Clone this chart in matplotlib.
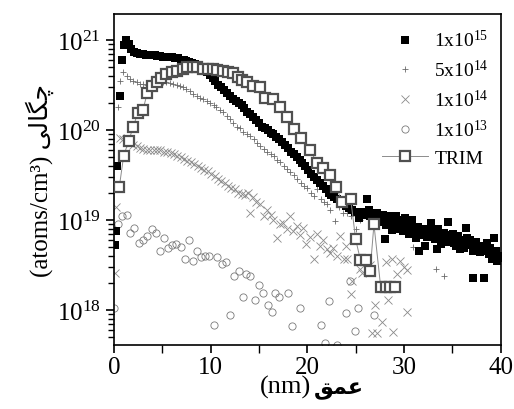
import numpy as np
import matplotlib
matplotlib.use("Agg")
import matplotlib.pyplot as plt
from matplotlib.ticker import MultipleLocator, LogLocator

plt.rcParams['font.family'] = ['Liberation Serif', 'DejaVu Sans']
plt.rcParams['mathtext.fontset'] = 'custom'
plt.rcParams['mathtext.rm'] = 'Liberation Serif'
plt.rcParams['mathtext.it'] = 'Liberation Serif:italic'

# 1x10^15 (filled squares)
d15 = [0.1, 0.2, 0.35, 0.6, 0.85, 1.05, 1.25, 1.5, 1.8, 2.1, 2.4, 2.7, 3.0, 3.3, 3.6, 3.9,
       4.2, 4.5, 4.8, 5.1, 5.4, 5.7, 6.0, 6.3, 6.6, 6.9, 7.2, 7.5, 7.8, 8.1, 8.4, 8.7,
       9.0, 9.3, 9.6, 9.9, 10.2, 10.5, 10.8, 11.1, 11.4, 11.7, 12.0, 12.3, 12.6, 12.9,
       13.2, 13.5, 13.8, 14.1, 14.4, 14.7, 15.0, 15.3, 15.6, 15.9, 16.2, 16.5, 16.8,
       17.1, 17.4, 17.7, 18.0, 18.3, 18.6, 18.9, 19.2, 19.5, 19.8, 20.1, 20.4, 20.7,
       21.0, 21.3, 21.6, 21.9, 22.2, 22.5, 22.8, 23.1, 23.4, 23.7, 24.0, 24.3, 24.6,
       24.9, 25.2, 25.5, 25.8, 26.2, 26.5, 26.8, 27.1, 27.4, 27.7, 28.0, 28.3, 28.6,
       28.9, 29.2, 29.5, 29.8, 30.1, 30.4, 30.7, 31.0, 31.3, 31.6, 31.9, 32.2, 32.5,
       32.8, 33.1, 33.4, 33.7, 34.0, 34.3, 34.6, 34.9, 35.2, 35.5, 35.8, 36.1, 36.4,
       36.7, 37.0, 37.2, 37.6, 37.9, 38.3, 38.5, 38.8, 39.1, 39.3, 39.6, 39.9,
       25.35, 25.95, 26.35, 26.65, 27.25, 27.55, 27.85, 28.15, 28.45, 28.75, 29.05,
       29.35, 29.65, 29.95, 30.25, 30.55, 30.85, 31.15, 31.45, 31.75, 32.05, 32.35,
       32.65, 32.95, 33.25, 33.55, 33.85, 34.15, 34.45, 34.75, 35.05, 35.35, 35.65,
       35.95, 36.25, 36.55, 36.85, 37.15, 37.45, 37.75, 38.05, 38.35, 38.65, 38.95,
       39.25, 39.55, 39.85]
c15 = [5.3e18, 7.6e18, 4.0e19, 2.4e20, 6.0e20, 8.8e20, 1.0e21, 9.0e20, 8.0e20, 7.5e20,
       7.2e20, 7.0e20, 7.0e20, 6.9e20, 6.8e20, 6.8e20, 6.8e20, 6.7e20, 6.7e20, 6.6e20,
       6.6e20, 6.5e20, 6.5e20, 6.4e20, 6.3e20, 6.1e20, 6.0e20, 5.9e20, 5.8e20, 5.6e20,
       5.4e20, 5.2e20, 5.0e20, 4.7e20, 4.4e20, 4.1e20, 3.8e20, 3.5e20, 3.2e20, 3.0e20,
       2.8e20, 2.6e20, 2.4e20, 2.25e20, 2.1e20, 2.0e20, 1.9e20, 1.75e20, 1.6e20, 1.5e20,
       1.4e20, 1.3e20, 1.2e20, 1.1e20, 1.05e20, 1.0e20, 9.4e19, 9.0e19, 8.5e19, 8.0e19,
       7.4e19, 6.8e19, 6.3e19, 5.8e19, 5.4e19, 5.0e19, 4.7e19, 4.3e19, 4.0e19, 3.6e19,
       3.3e19, 3.0e19, 2.8e19, 2.6e19, 2.4e19, 2.2e19, 2.0e19, 1.9e19, 1.8e19, 1.7e19,
       1.6e19, 1.5e19, 1.45e19, 1.35e19, 1.3e19, 1.25e19, 1.25e19, 1.2e19, 1.15e19,
       1.7e19, 1.1e19, 1.15e19, 1.05e19, 1.1e19, 9.5e18, 6.2e18, 1.0e19, 9.0e18, 1.0e19,
       1.1e19, 8.5e18, 9.5e18, 1.05e19, 8.6e18, 9.0e18, 8.5e18, 6.4e18, 4.6e18, 7.5e18,
       5.2e18, 7.8e18, 9.2e18, 6.7e18, 4.8e18, 7.0e18, 6.1e18, 6.5e18, 9.5e18, 6.0e18,
       5.6e18, 6.3e18, 4.8e18, 5.8e18, 8.3e18, 5.5e18, 5.3e18, 2.3e18, 4.6e18, 4.4e18,
       2.3e18, 5.0e18, 4.2e18, 3.7e18, 6.4e18, 3.5e18, 4.0e18,
       1.05e19, 1.25e19, 1.3e19, 9.8e18, 1.2e19, 1.0e19, 1.15e19, 8.8e18, 1.1e19, 7.8e18,
       9.2e18, 8.0e18, 1.0e19, 7.5e18, 9.2e18, 7.0e18, 1.0e19, 7.8e18, 8.5e18, 6.8e18,
       8.0e18, 6.5e18, 7.0e18, 7.5e18, 6.2e18, 8.0e18, 5.5e18, 7.2e18, 5.8e18, 6.8e18,
       7.0e18, 5.2e18, 6.6e18, 6.0e18, 4.9e18, 6.4e18, 6.0e18, 4.5e18, 5.8e18, 5.2e18,
       4.8e18, 4.5e18, 5.6e18, 4.9e18, 4.2e18, 4.6e18, 3.8e18]

# 5x10^14 (plus)
d5e14 = [0.45, 0.6, 0.97, 1.3, 1.65, 2.0, 2.35, 2.7, 3.05, 3.4, 3.75, 4.1, 4.4, 4.75, 5.1,
         5.4, 5.8, 6.1, 6.5, 6.8, 7.15, 7.5, 7.85, 8.2, 8.55, 8.9, 9.25, 9.6, 9.95, 10.3,
         10.6, 10.95, 11.3, 11.7, 12.0, 12.35, 12.7, 13.05, 13.4, 13.75, 14.1, 14.45, 14.8,
         15.1, 15.5, 15.85, 16.2, 16.55, 16.9, 17.2, 17.55, 17.9, 18.2, 18.6, 18.95, 19.3,
         19.65, 20.0, 20.35, 20.7, 21.0, 21.4, 21.7, 22.0, 22.4, 22.9, 23.3, 23.7, 24.1,
         24.5, 25.0, 25.5, 30.9, 33.3, 34.2]
c5e14 = [1.8e20, 3.5e20, 4.4e20, 4.0e20, 3.7e20, 3.5e20, 3.4e20, 3.3e20, 3.25e20, 3.2e20,
         3.3e20, 3.35e20, 3.4e20, 3.4e20, 3.4e20, 3.4e20, 3.35e20, 3.3e20, 3.2e20, 3.1e20,
         3.0e20, 2.85e20, 2.7e20, 2.55e20, 2.4e20, 2.3e20, 2.2e20, 2.1e20, 2.0e20, 1.9e20,
         1.8e20, 1.7e20, 1.6e20, 1.45e20, 1.35e20, 1.2e20, 1.1e20, 1.05e20, 9.5e19, 9.0e19,
         8.6e19, 8.0e19, 7.3e19, 6.7e19, 6.2e19, 5.8e19, 5.5e19, 5.2e19, 4.7e19, 4.4e19,
         4.0e19, 3.7e19, 3.4e19, 3.2e19, 2.9e19, 2.6e19, 2.4e19, 2.3e19, 2.0e19, 1.85e19,
         2.2e19, 1.7e19, 1.6e19, 1.5e19, 1.3e19, 9.8e18, 1.4e19, 1.2e19, 1.2e19, 1.1e19,
         8.0e18, 1.0e19, 5.0e18, 2.9e18, 2.4e18]

# 1x10^14 (cross)
d1e14 = [0.07, 0.25, 0.6, 0.95, 1.3, 1.65, 2.0, 2.35, 2.7, 3.05, 3.4, 3.75, 4.1, 4.45, 4.8,
         5.15, 5.5, 5.85, 6.2, 6.55, 6.9, 7.25, 7.6, 7.95, 8.3, 8.65, 9.0, 9.35, 9.7, 10.05,
         10.4, 10.75, 11.1, 11.45, 11.8, 12.15, 12.5, 12.85, 13.2, 13.55, 13.9, 14.1, 14.4,
         14.7, 15.1, 15.5, 15.8, 16.2, 16.5, 16.9, 17.2, 17.5, 17.9, 18.2, 18.5, 18.9, 19.2,
         19.6, 19.9, 20.3, 20.7, 21.0, 21.3, 21.6, 22.0, 22.4, 22.7, 23.1, 23.4, 23.8, 24.0,
         24.1, 24.5, 24.6, 25.5, 25.7, 26.5, 26.7, 27.0, 27.2, 27.7, 28.1, 28.4, 28.8, 28.9,
         29.3, 29.6, 30.0, 30.3, 30.3]
c1e14 = [2.6e18, 1.4e19, 8.3e19, 7.9e19, 7.6e19, 7.3e19, 6.9e19, 6.6e19, 6.4e19, 6.2e19,
         6.1e19, 6.1e19, 6.0e19, 6.0e19, 6.0e19, 5.7e19, 5.8e19, 5.6e19, 5.4e19, 5.2e19,
         5.0e19, 4.8e19, 4.6e19, 4.4e19, 4.2e19, 4.0e19, 3.8e19, 3.6e19, 3.5e19, 3.3e19,
         3.1e19, 2.9e19, 2.7e19, 2.6e19, 2.4e19, 2.3e19, 2.2e19, 2.0e19, 1.95e19, 1.9e19,
         2.0e19, 1.2e19, 1.8e19, 1.6e19, 1.5e19, 1.1e19, 1.3e19, 1.15e19, 1.0e19, 6.3e18,
         9.0e18, 9.4e18, 8.0e18, 1.1e19, 7.5e18, 8.6e18, 6.8e18, 8.3e18, 5.5e18, 6.5e18,
         3.7e18, 7.0e18, 5.2e18, 6.0e18, 4.8e18, 4.3e18, 4.9e18, 4.0e18, 6.7e18, 3.7e18,
         5.2e18, 3.7e18, 1.5e18, 2.1e18, 2.9e18, 2.6e18, 3.2e18, 5.6e17, 1.15e18, 5.6e17,
         7.3e17, 3.4e18, 1.3e18, 3.7e18, 5.7e17, 2.5e18, 3.5e18, 3.0e18, 9.5e17, 2.8e18]

# 1x10^13 (open circles)
d1e13 = [0.0, 0.45, 0.87, 1.3, 1.7, 2.1, 2.6, 3.0, 3.45, 3.9, 4.3, 4.75, 5.2, 5.6, 6.0,
         6.45, 6.9, 7.3, 7.75, 8.15, 8.55, 9.0, 9.4, 9.85, 10.35, 10.7, 11.15, 11.55, 12.0,
         12.4, 12.9, 13.3, 13.7, 14.1, 14.6, 15.0, 15.4, 15.9, 16.3, 16.7, 17.1, 18.0, 18.4,
         19.2, 21.4, 21.8, 22.3, 23.1, 24.0, 24.4, 24.9, 25.2, 26.9]
c1e13 = [1.05e18, 9.1e18, 1.12e19, 1.15e19, 7.3e18, 8.3e18, 5.6e18, 6.0e18, 6.7e18, 7.9e18,
         7.2e18, 4.6e18, 6.3e18, 4.9e18, 5.3e18, 5.4e18, 5.1e18, 3.7e18, 6.0e18, 3.5e18,
         4.5e18, 3.9e18, 4.0e18, 4.0e18, 6.8e17, 3.9e18, 3.3e18, 3.4e18, 8.9e17, 2.4e18,
         2.7e18, 1.4e18, 2.5e18, 2.4e18, 1.3e18, 1.9e18, 1.55e18, 1.15e18, 9.5e17, 1.55e18,
         1.4e18, 1.55e18, 6.6e17, 1.05e18, 6.8e17, 4.3e17, 1.25e18, 4.1e17, 9.4e17, 2.1e18,
         5.8e17, 1.05e18, 8.9e17]

# TRIM simulation
d_trim = [0.55, 1.0, 1.5, 2.0, 2.45, 3.0, 3.45, 3.9, 4.4, 4.9, 5.4, 6.0, 6.5, 7.1, 7.6,
          8.15, 8.6, 9.2, 9.7, 10.2, 10.7, 11.25, 11.75, 12.3, 12.8, 13.2, 13.75, 14.4,
          15.1, 15.6, 16.5, 17.2, 17.9, 18.6, 19.4, 20.3, 21.0, 21.6, 22.4, 23.0, 23.6,
          24.5, 25.0, 25.5, 26.1, 26.5, 26.9, 27.6, 28.1, 28.6, 29.1]
c_trim = [2.35e19, 5.2e19, 7.5e19, 1.1e20, 1.55e20, 1.7e20, 2.6e20, 3.1e20, 3.4e20, 3.85e20,
          4.2e20, 4.4e20, 4.6e20, 4.75e20, 5.0e20, 5.0e20, 5.0e20, 4.8e20, 4.8e20, 4.8e20,
          4.65e20, 4.55e20, 4.4e20, 4.3e20, 3.95e20, 3.6e20, 3.4e20, 3.1e20, 3.0e20, 2.3e20,
          2.2e20, 1.8e20, 1.4e20, 1.03e20, 8.3e19, 6.1e19, 4.3e19, 3.8e19, 3.2e19, 2.35e19,
          1.6e19, 1.7e19, 6.2e18, 3.6e18, 3.6e18, 2.7e18, 9.0e18, 1.8e18, 1.8e18, 1.8e18,
          1.8e18]

labels = ["1x10$^{15}$", "5x10$^{14}$", "1x10$^{14}$", "1x10$^{13}$", "TRIM"]

# Persian words written in visual order with presentation forms
xlab_unit = "(nm)"
xlab_word = "\uFED6\uFEE4\uFECB"
ylab = "(atoms/cm\u00b3) " + "\uFBFD\uFEDF\uFE8E\uFB95\uFB7C"

fig = plt.figure(figsize=(5.14, 4.10), dpi=100)
ax = fig.add_axes([0.2218, 0.156, 0.752, 0.807])

ax.plot(d1e13, c1e13, linestyle='none', marker='o', ms=5.2, mfc='none',
        mec='#7a7a7a', mew=0.6, label=labels[3], zorder=2)
ax.plot(d1e14, c1e14, linestyle='none', marker='x', ms=5.5,
        mec='#8a8a8a', mew=0.6, label=labels[2], zorder=2)
ax.plot(d5e14, c5e14, linestyle='none', marker='+', ms=5,
        mec='#6a6a6a', mew=0.6, label=labels[1], zorder=3)
ax.plot(d15, c15, linestyle='none', marker='s', ms=5.5, mfc='black',
        mec='black', mew=0, label=labels[0], zorder=4)
ax.plot(d_trim, c_trim, '-', color='#8c8c8c', lw=0.7, marker='s', ms=7,
        mfc='white', mec='#505050', mew=1.6, label=labels[4], zorder=5)

ax.set_yscale('log')
ax.set_xlim(0, 40)
ax.set_ylim(4.1e17, 1.95e21)
ax.xaxis.set_major_locator(MultipleLocator(10))
ax.xaxis.set_minor_locator(MultipleLocator(5))
ax.yaxis.set_major_locator(LogLocator(base=10, numticks=10))
ax.yaxis.set_minor_locator(LogLocator(base=10, subs=np.arange(2, 10), numticks=10))

ax.tick_params(axis='both', which='major', direction='out', length=6, width=1.2,
               labelsize=18, top=False, right=False)
ax.tick_params(axis='both', which='minor', direction='out', length=4, width=1.0,
               top=False, right=False)
ax.tick_params(axis='x', which='minor', length=6)
ax.tick_params(axis='x', which='major', pad=2)
for sp in ax.spines.values():
    sp.set_linewidth(1.2)

# x label: unit in serif, Persian word in bold
fig.text(311 / 514, 16 / 410, xlab_unit, ha='right', va='baseline', fontsize=19)
fig.text(314 / 514, 16 / 410, xlab_word, ha='left', va='baseline', fontsize=16,
         fontweight='bold', family='DejaVu Sans')
ax.set_ylabel(ylab, fontsize=18, labelpad=2)

handles, labs = ax.get_legend_handles_labels()
order = [3, 2, 1, 0, 4]
h = [handles[i] for i in order]
l = [labs[i] for i in order]
ax.legend(h, l, loc='upper right', frameon=False, fontsize=14, handlelength=2.4,
          handletextpad=0.3, labelspacing=0.45, borderaxespad=0.2,
          bbox_to_anchor=(1.0, 0.99))

fig.savefig("out.png", dpi=100)
